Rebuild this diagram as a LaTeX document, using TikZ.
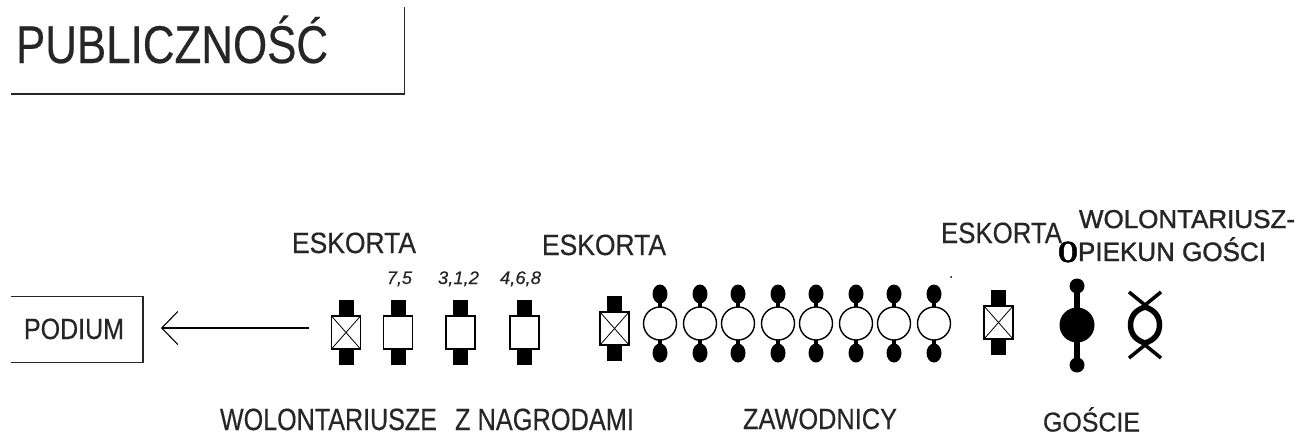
\documentclass[tikz,border=0pt]{standalone}
\usepackage{graphicx}
\usepackage{fontspec}
\setmainfont{Liberation Sans}[FakeBold=0.4]
\newfontfamily\semib{Liberation Sans}[FakeBold=1.4]
\newfontfamily\heavyserif{Liberation Serif Bold}[FakeBold=2]
\usetikzlibrary{arrows.meta}
% \fitlab{width}{cap height}{text}: exact size, accents do not count in the height
\newcommand{\fitlab}[3]{\resizebox{#1pt}{#2pt}{\raisebox{0pt}[.716em][0pt]{#3}}}
\tikzset{
  lbl/.style={inner sep=0pt,outer sep=0pt,anchor=south west,text=black!85},
  escortbox/.style={draw=black,line width=1.3pt,fill=white,minimum width=29pt,minimum height=33pt,inner sep=0pt,outer sep=0pt},
  band/.style={fill=black},
  ring/.style={draw=black,line width=1.4pt,circle,fill=white,minimum size=33pt,inner sep=0pt,outer sep=0pt},
  rule/.style={draw=black!85,line width=1.3pt},
}
% \persona{name}{x}{cy}: black bands and white box
\newcommand{\persona}[3]{%
  \fill[band] (#2-7.5,#3-32.5) rectangle (#2+7.5,#3+32.5);
  \node[escortbox] (#1) at (#2,#3) {};
}
% with a cross
\newcommand{\escorta}[3]{%
  \persona{#1}{#2}{#3}
  \draw[line width=.8pt] (#1.north west) -- (#1.south east) (#1.north east) -- (#1.south west);
}
% \zawodnik{name}{x}{cy}
\newcommand{\zawodnik}[3]{%
  \draw[line width=3.5pt] (#2,#3-29.5) -- (#2,#3+29.5);
  \fill (#2,#3-29.5) ellipse [x radius=7.5pt,y radius=9.5pt];
  \fill (#2,#3+29.5) ellipse [x radius=7.5pt,y radius=9.5pt];
  \node[ring] (#1) at (#2,#3) {};
}
\begin{document}
\begin{tikzpicture}[x=1pt,y=-1pt]
\useasboundingbox (0,0) rectangle (1297,434);

% PUBLICZNOSC
\draw[rule] (11,94) -- (404.5,94) -- (404.5,7);
\node[lbl] (pub) at (16,63) {\fitlab{312}{38}{PUBLICZNOŚĆ}};

% PODIUM
\draw[rule,line width=1.4pt] (11,296.5) -- (143,296.5) -- (143,362.5) -- (11,362.5);
\coordinate (podiumedge) at (143,328);
\node[lbl] (pod) at (24,339) {\fitlab{100}{21}{PODIUM}};

% Wolontariusze
\escorta{e1}{346}{332.5}
\persona{w1}{398}{332.5}
\persona{w2}{460.5}{332.5}
\persona{w3}{524.5}{332.5}

\draw[line width=1.1pt,-{Straight Barb[length=16pt,width=33pt,line width=1.1pt]},shorten <=23pt,shorten >=18pt]
  (e1.west |- podiumedge) -- (podiumedge);

% Eskorta 2, zawodnicy
\escorta{e2}{614.5}{328.5}
\zawodnik{z1}{660}{323.5}
\zawodnik{z2}{700}{323.5}
\zawodnik{z3}{738}{323.5}
\zawodnik{z4}{778}{323.5}
\zawodnik{z5}{816}{323.5}
\zawodnik{z6}{856}{323.5}
\zawodnik{z7}{894}{323.5}
\zawodnik{z8}{934}{323.5}

% Eskorta 3
\escorta{e3}{998.5}{322.5}
\fill (951,277) circle (1pt);

% Goscie
\draw[line width=6pt] (1077,286) -- (1077,365);
\fill (1077,286) circle (7.5pt);
\fill (1077,365) circle (7.5pt);
\node[circle,fill=black,minimum size=35pt,inner sep=0pt] (gosc) at (1077,325) {};

% Wolontariusz-opiekun
\draw[line width=5.5pt,line join=round] (1145,307) .. controls (1155,310) and (1159.5,317) .. (1159.5,325)
  .. controls (1159.5,333) and (1155,340) .. (1145,343)
  .. controls (1135,340) and (1130.5,333) .. (1130.5,325)
  .. controls (1130.5,317) and (1135,310) .. (1145,307) -- cycle;
\draw[line width=3.5pt] (1129,292) -- (1156,314) (1161,292) -- (1134,314);
\draw[line width=3.5pt] (1129,358) -- (1156,336) (1161,358) -- (1134,336);

% Labels
\node[lbl] (l1) at (292,253) {\fitlab{124}{21}{ESKORTA}};
\node[lbl] (l2) at (542,255) {\fitlab{124}{21}{ESKORTA}};
\node[lbl] (l3) at (941,243) {\fitlab{121}{21}{ESKORTA}};
\node[lbl] (l4) at (1079,228) {\fitlab{216}{18.5}{\semib WOLONTARIUSZ-}};
\node[lbl,text=black] (l5) at (1058,262) {\fitlab{20}{22}{\heavyserif O}};
\node[lbl] (l6) at (1078,261) {\fitlab{188}{19}{\semib PIEKUN GOŚCI}};
\node[lbl] (n1) at (387,284) {\fitlab{25}{13}{\itshape 7,5}};
\node[lbl] (n2) at (438,284) {\fitlab{41}{13}{\itshape 3,1,2}};
\node[lbl] (n3) at (500,284) {\fitlab{41}{13}{\itshape 4,6,8}};
\node[lbl] (l7) at (220,430) {\fitlab{217}{22}{WOLONTARIUSZE}};
\node[lbl] (l8) at (455,430) {\fitlab{179}{22}{Z NAGRODAMI}};
\node[lbl] (l9) at (743,429) {\fitlab{154}{21}{ZAWODNICY}};
\node[lbl] (l10) at (1043,431.5) {\fitlab{97}{19.5}{GOŚCIE}};
\end{tikzpicture}
\end{document}
